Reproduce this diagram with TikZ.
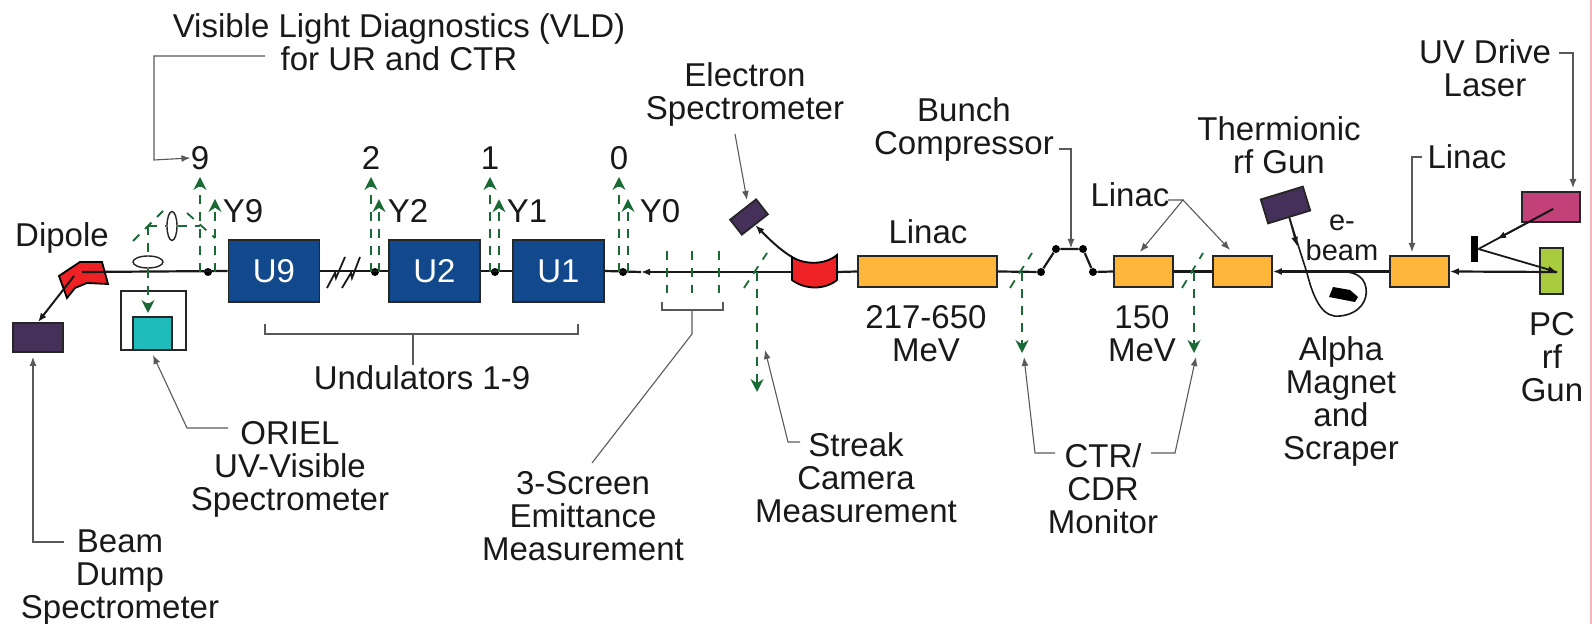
\documentclass[tikz,border=0pt]{standalone}
\usepackage{fontspec}
\setmainfont{Liberation Sans}
\usetikzlibrary{arrows.meta,shapes.geometric}
\definecolor{undblue}{HTML}{12488C}
\definecolor{linacorange}{HTML}{FDB53A}
\definecolor{darkpurple}{HTML}{45305A}
\definecolor{specteal}{HTML}{20BBBB}
\definecolor{magnetred}{HTML}{EE2224}
\definecolor{lasermagenta}{HTML}{C24179}
\definecolor{gungreen}{HTML}{A9CC3F}
\definecolor{opticgreen}{HTML}{1A6A35}
\definecolor{edgepink}{HTML}{F4B6BC}
\tikzset{
  lbl/.style={font=\fontsize{16.5}{16.5}\selectfont,align=center,inner sep=0pt,text=black!90,yshift=-1.5pt},
  boxnode/.style={draw=black!85,line width=0.9pt,inner sep=0pt},
  undulator/.style={boxnode,fill=undblue,minimum width=45.5pt,minimum height=31pt,font=\fontsize{16.5}{16.5}\selectfont,text=white},
  linac/.style={boxnode,fill=linacorange,minimum width=29.5pt,minimum height=15.5pt},
  beamdot/.style={circle,fill=black,inner sep=0pt,minimum size=4pt},
  beam/.style={line width=1.1pt,black!90},
  leader/.style={line width=0.55pt,black!65},
  optic/.style={line width=0.9pt,opticgreen,dash pattern=on 4.5pt off 4pt},
  optictip/.style={-{Stealth[length=6.5pt,width=6.5pt]}}
}
\begin{document}
\begin{tikzpicture}[x=0.5pt,y=-0.5pt,>={Latex[length=4.5pt,width=3.5pt]}]
\useasboundingbox (0,0) rectangle (1592,624);
\draw[edgepink,line width=0.8pt] (1591,0) -- (1591,624);

% labels
\node[lbl] (vldlbl) at (399,39) {Visible Light Diagnostics (VLD)\\for UR and CTR};
\node[lbl] (n9) at (200,155) {9};
\node[lbl] (n2) at (371,155) {2};
\node[lbl] (n1) at (490,155) {1};
\node[lbl] (n0) at (619,155) {0};
\node[lbl] (y9lbl) at (243,208) {Y9};
\node[lbl] (y2lbl) at (408,208) {Y2};
\node[lbl] (y1lbl) at (527,208) {Y1};
\node[lbl] (y0lbl) at (660,208) {Y0};
\node[lbl] (dipolelbl) at (62,235) {Dipole};
\node[lbl] (undlbl) at (422,375) {Undulators 1-9};
\node[lbl] (orielbl) at (290,466) {ORIEL\\UV-Visible\\Spectrometer};
\node[lbl] (dumplbl) at (120,575) {Beam\\Dump\\Spectrometer};
\node[lbl] (screenlbl) at (583,513) {3-Screen\\Emittance\\Measurement};
\node[lbl] (streaklbl) at (856,475) {Streak\\Camera\\Measurement};
\node[lbl] (ctrlbl) at (1103,486) {CTR/\\CDR\\Monitor};
\node[lbl] (alphalbl) at (1341,398) {Alpha\\Magnet\\and\\Scraper};
\node[lbl] (pclbl) at (1552,354) {PC\\rf\\Gun};
\node[lbl] (uvlbl) at (1485,65) {UV Drive\\Laser};
\node[lbl] (thermlbl) at (1279,142) {Thermionic\\rf Gun};
\node[lbl,font=\fontsize{14.5}{15}\selectfont] (elbl) at (1342,235) {e-\\beam};
\node[lbl] (especlbl) at (745,91) {Electron\\Spectrometer};
\node[lbl] (bunchlbl) at (964,126) {Bunch\\Compressor};
\node[lbl] (linaclbl) at (928,229) {Linac};
\node[lbl] (linacmidlbl) at (1130,192) {Linac};
\node[lbl] (linacrlbl) at (1467,154) {Linac};
\node[lbl] (mevalbl) at (926,331) {217-650\\MeV};
\node[lbl] (mevblbl) at (1142,331) {150\\MeV};

% machine
\node[undulator] (u9) at (274,271) {U9};
\node[undulator] (u2) at (434.5,271) {U2};
\node[undulator] (u1) at (558.5,271) {U1};
\node[boxnode,fill=linacorange,minimum width=69.5pt,minimum height=15.5pt] (linacbig) at (927.5,271.5) {};
\node[linac] (linacb) at (1143.5,271.5) {};
\node[linac] (linacc) at (1242.5,271.5) {};
\node[linac] (linacd) at (1419.5,271.5) {};
\node[boxnode,fill=gungreen,minimum width=11.5pt,minimum height=23pt] (pcgun) at (1551.5,271) {};
\node[boxnode,fill=lasermagenta,minimum width=29pt,minimum height=15pt] (laser) at (1551,207) {};
\node[fill=black,inner sep=0pt,minimum width=3.5pt,minimum height=13pt] (lasermirror) at (1474.5,249) {};
\node[boxnode,fill=darkpurple,minimum width=25pt,minimum height=14.5pt] (dump) at (38,337.5) {};
\node[boxnode,fill=white,minimum width=32.5pt,minimum height=29.5pt] (oriel) at (153.5,320.5) {};
\node[boxnode,fill=specteal,minimum width=19.5pt,minimum height=16.5pt] (orielin) at (152.5,333.5) {};
\node[boxnode,fill=darkpurple,rotate=38,minimum width=16.5pt,minimum height=9.5pt] (espec) at (749,217) {};
\node[boxnode,fill=darkpurple,rotate=17,minimum width=22pt,minimum height=12.5pt] (thermgun) at (1285.5,205) {};
\node[draw=black!85,line width=0.7pt,ellipse,inner sep=0pt,minimum width=15pt,minimum height=6pt] (lensa) at (148,262) {};
\node[draw=black!85,line width=0.7pt,ellipse,inner sep=0pt,minimum width=5pt,minimum height=14.5pt] (lensb) at (172,226) {};
\node[beamdot] (d9) at (208,272) {};
\node[beamdot] (d2) at (375,272) {};
\node[beamdot] (d1) at (495,272) {};
\node[beamdot] (d0) at (623,272) {};
\node[beamdot] (bca) at (1041,272) {};
\node[beamdot] (bcb) at (1056,249) {};
\node[beamdot] (bcc) at (1083,249) {};
\node[beamdot] (bcd) at (1093,272) {};

\coordinate (dipolein) at (82,272);
\coordinate (dipoleout) at (74,276);
\coordinate (beamtip) at (641,272);
\coordinate (gunin) at (1557,272);
\coordinate (magnetout) at (792,257);
\coordinate (magnetin) at (837,272);

% dipole goes under the beam line
\draw[fill=magnetred,draw=black,line width=0.9pt] (59,276) -- (67,298) -- (75,288) -- (87,283) -- (108,284) -- (102,262) -- (80,262) -- cycle;

% beam line
\draw[beam,->] (gunin) -- (linacd.east);
\draw[beam,->] (linacd.west) -- (linacc.east);
\draw[beam] (linacc.west) -- (linacb.east);
\draw[beam] (linacb.west) -- (bcd);
\draw[beam] (bcd) -- (bcc) -- (bcb) -- (bca);
\draw[beam] (bca) -- (linacbig.east);
\draw[beam] (linacbig.west) -- (magnetin);
\draw[beam,->] (magnetin) -- (beamtip);
\draw[beam] (beamtip) -- (u1.east);
\draw[beam] (u1.west) -- (u2.east);
\draw[beam] (u2.west) -- (u9.east);
\draw[beam] (u9.west) -- (dipolein);
\draw[line width=0.9pt,black!90] (327,288) -- (335,273) -- (336,278) -- (345,257);
\draw[line width=0.9pt,black!90] (342,288) -- (351,273) -- (352,278) -- (360,257);
\draw[line width=1pt,black!90,->] (dipoleout) -- (dump.north);
\draw[line width=1pt,black!90,->] (magnetout) .. controls (780,250) and (768,238) .. (espec.south);

% spectrometer magnet
\draw[fill=magnetred,draw=black,line width=0.9pt] (792,257) .. controls (805,265) and (825,265) .. (837,255) -- (837,280) .. controls (825,290) and (805,290) .. (792,280) -- cycle;

% laser
\draw[line width=0.9pt,black!90] (1553,209) -- (lasermirror.east);
\draw[line width=0.9pt,black!90,->] (1553,209) -- (1497,239);
\draw[line width=0.9pt,black!90,->] (lasermirror.east) -- (gunin);

% alpha magnet
\draw[line width=0.8pt,black!90] (thermgun.south) -- (1307,273) .. controls (1315,305) and (1325,318) .. (1340,316) .. controls (1360,314) and (1368,300) .. (1366,288) .. controls (1364,275) and (1352,272) .. (1345,272);
\draw[line width=0.8pt,black!90,->] (thermgun.south) -- (1297,246);
\fill[black] (1333,287) -- (1350,290) -- (1358,297) -- (1355,302) -- (1329,297) -- cycle;

% optical paths
\coordinate (y9a) at (200,272);
\coordinate (y9b) at (215,272);
\coordinate (y2a) at (371,272);
\coordinate (y2b) at (379,272);
\coordinate (y1a) at (490,272);
\coordinate (y1b) at (499,272);
\coordinate (y0a) at (619,272);
\coordinate (y0b) at (628,272);
\coordinate (y9tip) at (200,177);
\coordinate (y2tip) at (371,177);
\coordinate (y1tip) at (490,177);
\coordinate (y0tip) at (619,177);
\draw[optic,optictip] (y9a) -- (y9tip);
\draw[optic,optictip] (y2a) -- (y2tip);
\draw[optic,optictip] (y1a) -- (y1tip);
\draw[optic,optictip] (y0a) -- (y0tip);
\draw[optic,optictip] (y9b) -- (y9b |- y9lbl.north);
\draw[optic,optictip] (y2b) -- (y2b |- y2lbl.north);
\draw[optic,optictip] (y1b) -- (y1b |- y1lbl.north);
\draw[optic,optictip] (y0b) -- (y0b |- y0lbl.north);
\draw[optic] (133,241) -- (163,211);
\draw[optic] (187,213) -- (215,238);
\draw[optic] (148,226) -- (lensb.west);
\draw[optic] (lensb.east) -- (200,226);
\draw[optic] (148,226) -- (lensa.north);
\draw[optic,optictip] (lensa.south) -- (148,313);
\draw[optic] (667,251) -- (667,293);
\draw[optic] (692,251) -- (692,293);
\draw[optic] (719,251) -- (719,293);
\draw[optic] (744,288) -- (767,253);
\draw[optic] (1010,288) -- (1032,253);
\draw[optic] (1182,288) -- (1203,253);
\coordinate (streakout) at (757,272);
\coordinate (streaktip) at (757,392);
\coordinate (ctraout) at (1022,272);
\coordinate (ctratip) at (1022,353);
\coordinate (ctrbout) at (1194,272);
\coordinate (ctrbtip) at (1194,353);
\draw[optic,optictip] (streakout) -- (streaktip);
\draw[optic,optictip] (ctraout) -- (ctratip);
\draw[optic,optictip] (ctrbout) -- (ctrbtip);

% leaders
\coordinate (undstem) at (413,334);
\coordinate (especin) at (747,200);
\draw[leader,->] (265,56) -- (154,56) -- (154,160) -- (n9.west);
\draw[leader,->] (64,542) -- (33,542) -- (33,357);
\draw[leader,->] (228,428) -- (187,428) -- (153,355);
\draw[leader] (265,324) -- (265,334) -- (578,334) -- (578,324);
\draw[leader] (undstem) -- (undstem |- undlbl.north);
\draw[leader] (662,302) -- (662,310) -- (723,310) -- (723,302);
\draw[leader] (692,310) -- (692,334) -- (592,463);
\draw[leader,->] (800,442) -- (788,442) -- (765,350);
\draw[leader,->] (1055,453) -- (1035,453) -- (1024,357);
\draw[leader,->] (1151,453) -- (1175,453) -- (1196,357);
\draw[leader,->] (735,134) -- (especin);
\draw[leader,->] (1059,149) -- (1071,149) -- (1071,248);
\draw[leader,->] (1168,200) -- (1183,200) -- (1140,252);
\draw[leader,->] (1183,200) -- (1230,250);
\draw[leader,->] (1422,157) -- (1412,157) -- (1412,252);
\draw[leader,->] (1559,53) -- (1573,53) -- (1573,188);
\end{tikzpicture}
\end{document}
